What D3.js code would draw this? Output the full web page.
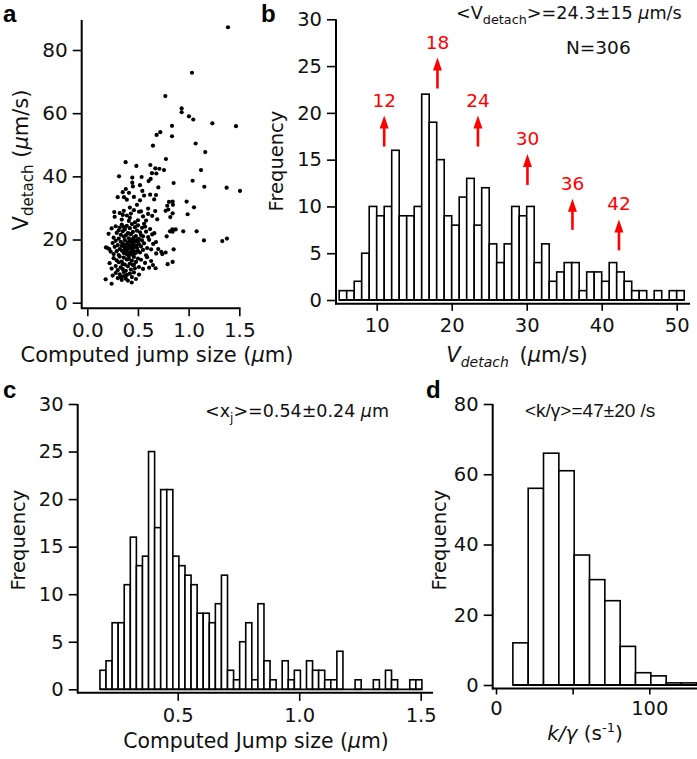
<!DOCTYPE html>
<html><head><meta charset="utf-8">
<script src="https://cdn.jsdelivr.net/npm/d3@7"></script>
<style>body{margin:0;background:#fff}svg{display:block}</style>
</head><body><svg id="chart" width="697" height="759"></svg>
<script>
// ---------- DATA ----------
// Panel a: scatter (computed jump size µm, V_detach µm/s)
const scatterOuter = [
 [1.388,87.2],[1.033,72.8],[0.770,65.4],[0.931,61.5],[0.931,60.3],[1.003,59.0],[1.046,58.0],[1.234,56.8],
 [1.467,55.9],[0.836,56.0],[0.836,52.7],[0.720,54.0],[0.684,53.1],[0.648,49.7],[1.069,50.4],[1.164,47.7],
 [0.776,45.5],[0.378,44.5],[0.484,43.3],[0.622,43.6],[0.671,42.5],[0.711,42.4],[0.757,42.0],[0.638,41.0],
 [0.681,40.9],[0.625,39.2],[0.605,38.5],[0.313,40.0],[0.444,39.6],[0.444,38.0],[0.536,39.8],[1.122,42.0],
 [1.039,38.6],[0.852,37.9],[1.155,36.7],[1.375,36.4],[1.507,35.4],[0.520,37.2],[0.701,36.5],[0.678,34.1],
 [0.543,35.4],[0.411,34.8],[0.362,33.4],[0.980,32.0],[1.053,30.2],[0.990,28.0],[0.806,31.9],[0.842,32.0],
 [0.845,31.0],[0.789,30.7],[0.799,29.5],[0.773,29.1],[0.842,28.3],[0.819,27.1],[1.079,22.6],[1.151,19.7],
 [1.332,19.5],[1.378,20.3],[0.947,22.6],[0.839,23.2],[0.872,23.2],[0.842,22.5],[0.816,22.6],[0.852,16.9],
 [0.842,12.9],[0.793,12.2],[0.773,15.9],[0.740,15.4],[0.783,21.0],[0.678,19.2],[0.661,22.0],[0.674,10.9],
 [0.648,11.9],[0.181,7.4],[0.240,6.0],[0.438,6.4],[0.184,17.5],[0.217,17.0],[0.266,28.7]
];
const scatterCore = [
 [0.30,33.4],[0.35,35.0],[0.39,32.6],[0.42,30.1],[0.46,33.5],[0.49,31.0],[0.52,32.4],[0.56,33.9],[0.60,29.8],
 [0.62,34.2],[0.45,36.8],[0.38,36.0],[0.53,28.9],[0.66,32.7],
 [0.27,27.2],[0.32,28.4],[0.34,26.3],[0.36,29.1],[0.39,27.6],[0.41,25.9],[0.43,28.2],[0.46,29.3],[0.47,25.4],
 [0.50,26.1],[0.51,28.8],[0.55,27.3],[0.58,26.0],[0.60,28.1],[0.64,27.5],[0.67,29.0],[0.69,26.4],[0.35,27.8],
 [0.42,26.9],[0.56,25.0],
 [0.21,21.8],[0.24,23.5],[0.26,20.6],[0.28,24.2],[0.29,22.1],[0.31,20.3],[0.32,23.8],[0.33,21.5],[0.34,24.7],
 [0.35,22.6],[0.36,20.9],[0.37,23.2],[0.38,21.3],[0.39,24.3],[0.40,22.0],[0.41,20.4],[0.42,23.6],[0.43,21.7],
 [0.44,24.9],[0.45,22.4],[0.46,20.7],[0.47,23.9],[0.48,21.1],[0.49,22.8],[0.50,24.5],[0.51,20.2],[0.52,22.3],
 [0.54,23.7],[0.55,21.0],[0.57,24.1],[0.58,22.5],[0.60,20.8],[0.62,23.3],[0.64,21.6],[0.31,22.9],
 [0.36,24.0],[0.41,21.9],[0.45,20.1],[0.53,21.4],
 [0.20,17.3],[0.23,16.2],[0.25,18.9],[0.26,15.4],[0.27,17.7],[0.28,19.6],[0.29,16.3],[0.30,18.2],[0.31,15.1],
 [0.32,17.0],[0.33,19.3],[0.34,16.5],[0.35,18.6],[0.36,15.7],[0.36,17.9],[0.37,19.8],[0.38,16.1],[0.38,18.4],
 [0.39,15.3],[0.39,17.2],[0.40,19.1],[0.40,16.8],[0.41,18.0],[0.41,15.6],[0.42,17.5],[0.42,19.5],[0.43,16.0],
 [0.43,18.3],[0.44,15.2],[0.44,17.1],[0.44,19.0],[0.45,16.6],[0.45,18.7],[0.46,15.5],[0.46,17.6],[0.47,19.4],
 [0.47,16.2],[0.48,18.1],[0.48,15.8],[0.49,17.4],[0.50,19.2],[0.50,16.4],[0.51,18.5],[0.52,15.9],[0.53,17.8],
 [0.54,19.7],[0.55,16.7],[0.56,18.8],[0.58,15.0],[0.59,17.3],[0.61,19.9],[0.63,16.9],[0.65,18.6],[0.68,15.6],
 [0.70,17.0],[0.73,16.1],[0.34,18.0],[0.43,17.9],[0.46,18.2],[0.40,17.6],[0.37,16.9],[0.49,19.8],
 [0.22,12.5],[0.24,10.8],[0.26,14.1],[0.28,11.6],[0.29,13.4],[0.30,10.3],[0.31,12.8],[0.32,14.6],[0.33,11.2],
 [0.34,13.0],[0.35,10.6],[0.36,14.3],[0.37,12.1],[0.38,10.1],[0.39,13.7],[0.40,11.5],[0.41,14.8],[0.42,12.4],
 [0.43,10.5],[0.44,13.3],[0.45,11.9],[0.46,14.5],[0.47,10.9],[0.48,12.9],[0.50,14.0],[0.51,11.3],[0.53,13.6],
 [0.55,10.7],[0.57,12.6],[0.59,14.4],[0.61,11.1],[0.63,13.2],[0.35,12.2],[0.41,13.9],[0.46,12.0],
 [0.25,8.6],[0.28,9.4],[0.30,7.8],[0.32,9.0],[0.34,7.2],[0.35,8.3],[0.36,9.7],[0.38,7.6],[0.39,8.8],
 [0.40,7.0],[0.42,9.2],[0.44,8.1],[0.46,9.6],[0.48,7.5],[0.51,8.9],[0.33,8.0],[0.37,8.4]
];
const scatterTicksX = [0, 0.5, 1.0, 1.5];
const scatterTicksY = [0, 20, 40, 60, 80];

// Panel b: V_detach histogram (bin width 1 µm/s starting at 5)
const vdBinStart = 5, vdBinWidth = 1;
const vdCounts = [1,1,2,5,10,9,10,16,9,9,10,22,19,15,9,8,11,13,8,12,6,4,6,10,9,10,4,6,2,3,4,4,1,3,3,2,4,3,2,1,1,0,1,0,1,1];
const vdTicksX = [10,20,30,40,50];
const vdTicksY = [0,5,10,15,20,25,30];
const peakLabels = ["12","18","24","30","36","42"];
const peakX = [11.0,18.1,23.5,30.1,36.1,42.3];
const peakArrowBase = [16.4,22.6,16.4,12.3,7.5,5.3];

// Panel c: jump size histogram
const jsBinStart = 0.18, jsBinWidth = 0.025;
const jsCounts = [2,3,7,7,11,16,13,14,25,17,21,21,14,13,12,11,8,8,7,9,12,2,1,5,7,1,9,3,1,0,3,1,2,0,3,2,2,1,1,4,0,0,1,0,0,1,0,2,1,0,0,1,1];
const jsTicksX = [0.5,1.0,1.5];
const jsTicksY = [0,5,10,15,20,25,30];

// Panel d: k/gamma histogram
const kgBinStart = 11, kgBinWidth = 10;
const kgCounts = [12,56,66,61,37,30,24,11,3.5,2.6,0.6,0.6];
const kgTicksX = [0,50,100];
const kgTicksXLabeled = [0,100];
const kgTicksY = [0,20,40,60,80];

// ---------- DRAW ----------
const FONT = '"DejaVu Sans",sans-serif';
const svg = d3.select('#chart');
svg.append('rect').attr('width',697).attr('height',759).attr('fill','#fff');

function line(x1,y1,x2,y2,w){
  svg.append('line').attr('x1',x1).attr('y1',y1).attr('x2',x2).attr('y2',y2)
    .attr('stroke','#000').attr('stroke-width',w||2);
}
function yAxis(scale, xPos, ticks, y0, y1, fs){
  const g = svg.append('g').attr('transform',`translate(${xPos},0)`)
    .call(d3.axisLeft(scale).tickValues(ticks).tickSize(9).tickPadding(5).tickFormat(d3.format('d')));
  g.attr('font-family',FONT).attr('font-size',fs||19.5);
  g.select('.domain').remove();
  g.selectAll('.tick line').attr('stroke-width',1.6).attr('stroke','#000');
  g.selectAll('.tick text').attr('fill','#111');
  line(xPos,y0,xPos,y1,2);
}
function xAxis(scale, yPos, ticks, x0, x1, fmt, size, labeled, fs){
  const f = fmt||d3.format('d');
  const g = svg.append('g').attr('transform',`translate(0,${yPos})`)
    .call(d3.axisBottom(scale).tickValues(ticks).tickSize(size||8).tickPadding(7).tickFormat(f));
  g.attr('font-family',FONT).attr('font-size',fs||19.5);
  g.select('.domain').remove();
  g.selectAll('.tick line').attr('stroke-width',1.6).attr('stroke','#000');
  g.selectAll('.tick text').attr('fill','#111');
  if(labeled) g.selectAll('.tick text').text(d=>labeled.includes(d)?f(d):'');
  line(x0,yPos,x1,yPos,2);
}
function hist(counts,start,width,x,y){
  svg.append('g').selectAll('rect').data(counts).join('rect')
    .attr('x',(d,i)=>x(start+i*width))
    .attr('width',(d,i)=>x(start+(i+1)*width)-x(start+i*width))
    .attr('y',d=>y(d)).attr('height',d=>y(0)-y(d))
    .attr('fill','#fff').attr('stroke','#000').attr('stroke-width',1.6);
  line(x(start),y(0),x(start+counts.length*width),y(0),1.8);
}
function label(t,x,y){
  svg.append('text').attr('x',x).attr('y',y).attr('font-family','"Liberation Sans",Arial,sans-serif')
    .attr('font-weight','bold').attr('font-size',24).text(t);
}
function txt(x,y,fs,anchor,rot){
  const t = svg.append('text').attr('font-family',FONT).attr('font-size',fs).attr('fill','#111')
    .attr('text-anchor',anchor||'start');
  if(rot) t.attr('transform',`translate(${x},${y}) rotate(-90)`); else t.attr('x',x).attr('y',y);
  return t;
}

// Panel a
{
  const x = d3.scaleLinear().domain([0,1.5]).range([87.3,239.3]);
  const y = d3.scaleLinear().domain([0,80]).range([302.7,50]);
  const pts = scatterOuter.concat(scatterCore);
  svg.append('g').selectAll('circle').data(pts).join('circle')
    .attr('cx',d=>x(d[0])).attr('cy',d=>y(d[1])).attr('r',2.1).attr('fill','#000');
  yAxis(y,81.7,scatterTicksY,20,309,20);
  xAxis(x,308.3,scatterTicksX,81,240.5,d3.format('.1f'),8,null,20);
  label('a',3,22);
  const t = txt(28,160,21,'middle',true);
  t.append('tspan').text('V');
  t.append('tspan').attr('font-size',15).attr('dy',5).text('detach');
  t.append('tspan').attr('dy',-5).text(' (');
  t.append('tspan').attr('font-style','italic').text('μ');
  t.append('tspan').text('m/s)');
  const xl = txt(157,362,21,'middle');
  xl.append('tspan').text('Computed jump size (');
  xl.append('tspan').attr('font-style','italic').text('μ');
  xl.append('tspan').text('m)');
}

// Panel b
{
  const x = d3.scaleLinear().domain([10,50]).range([376.7,676.7]);
  const y = d3.scaleLinear().domain([0,30]).range([300,19.3]);
  hist(vdCounts,vdBinStart,vdBinWidth,x,y);
  yAxis(y,336,vdTicksY,19.3,304.5);
  xAxis(x,303.8,vdTicksX,335,690,null,7);
  label('b',261,22);
  const ag = svg.append('g');
  peakLabels.forEach((lab,i)=>{
    const cx = x(peakX[i]), yb = y(peakArrowBase[i]), yt = yb-31;
    ag.append('line').attr('x1',cx).attr('x2',cx).attr('y1',yb).attr('y2',yt+10)
      .attr('stroke','#ff0000').attr('stroke-width',2.6);
    ag.append('path').attr('d',`M${cx},${yt} L${cx-4.5},${yt+13} L${cx+4.5},${yt+13} Z`).attr('fill','#ff0000');
    ag.append('text').attr('x',cx).attr('y',yt-9).attr('text-anchor','middle')
      .attr('font-family',FONT).attr('font-size',18.5).attr('fill','#ff0000').text(lab);
  });
  const t1 = txt(456,19,17.6);
  t1.append('tspan').text('<V');
  t1.append('tspan').attr('font-size',12.8).attr('dy',5).text('detach');
  t1.append('tspan').attr('dy',-5).text('>=24.3±15 ');
  t1.append('tspan').attr('font-style','italic').text('μ');
  t1.append('tspan').text('m/s');
  txt(566,54,18.5).text('N=306');
  txt(283,161,19.5,'middle',true).text('Frequency');
  const xl = txt(517,362,21,'middle');
  xl.append('tspan').attr('font-style','italic').text('V');
  xl.append('tspan').attr('font-style','italic').attr('font-size',14).attr('dy',5).text('detach');
  xl.append('tspan').attr('dy',-5).attr('dx',4).text(' (');
  xl.append('tspan').attr('font-style','italic').text('μ');
  xl.append('tspan').text('m/s)');
}

// Panel c
{
  const x = d3.scaleLinear().domain([0.5,1.5]).range([177.7,420.7]);
  const y = d3.scaleLinear().domain([0,30]).range([689.3,404]);
  hist(jsCounts,jsBinStart,jsBinWidth,x,y);
  yAxis(y,77.7,jsTicksY,404,693.5);
  xAxis(x,692.8,jsTicksX,77,433,d3.format('.1f'),8);
  label('c',3,398);
  const t1 = txt(205,417,17.5);
  t1.append('tspan').text('<x');
  t1.append('tspan').attr('font-size',12).attr('dy',5).text('j');
  t1.append('tspan').attr('dy',-5).text('>=0.54±0.24 ');
  t1.append('tspan').attr('font-style','italic').text('μ');
  t1.append('tspan').text('m');
  txt(25,540,19.5,'middle',true).text('Frequency');
  const xl = txt(256,748,20.4,'middle');
  xl.append('tspan').text('Computed Jump size (');
  xl.append('tspan').attr('font-style','italic').text('μ');
  xl.append('tspan').text('m)');
}

// Panel d
{
  const x = d3.scaleLinear().domain([0,100]).range([496,649.3]);
  const y = d3.scaleLinear().domain([0,80]).range([685,404]);
  hist(kgCounts,kgBinStart,kgBinWidth,x,y);
  yAxis(y,492.7,kgTicksY,404,689.5);
  xAxis(x,688.5,kgTicksX,492,697,null,6,kgTicksXLabeled);
  label('d',426,398);
  svg.append('text').attr('x',525).attr('y',417).attr('font-family','"Liberation Sans",Arial,sans-serif')
    .attr('font-size',19).attr('fill','#111').text('<k/γ>=47±20 /s');
  txt(446,540,19.5,'middle',true).text('Frequency');
  const xl = txt(585,740,20,'middle');
  xl.append('tspan').attr('font-style','italic').text('k/γ');
  xl.append('tspan').text(' (s');
  xl.append('tspan').attr('font-size',13).attr('dy',-8).text('-1');
  xl.append('tspan').attr('dy',8).text(')');
}
</script></body></html>
